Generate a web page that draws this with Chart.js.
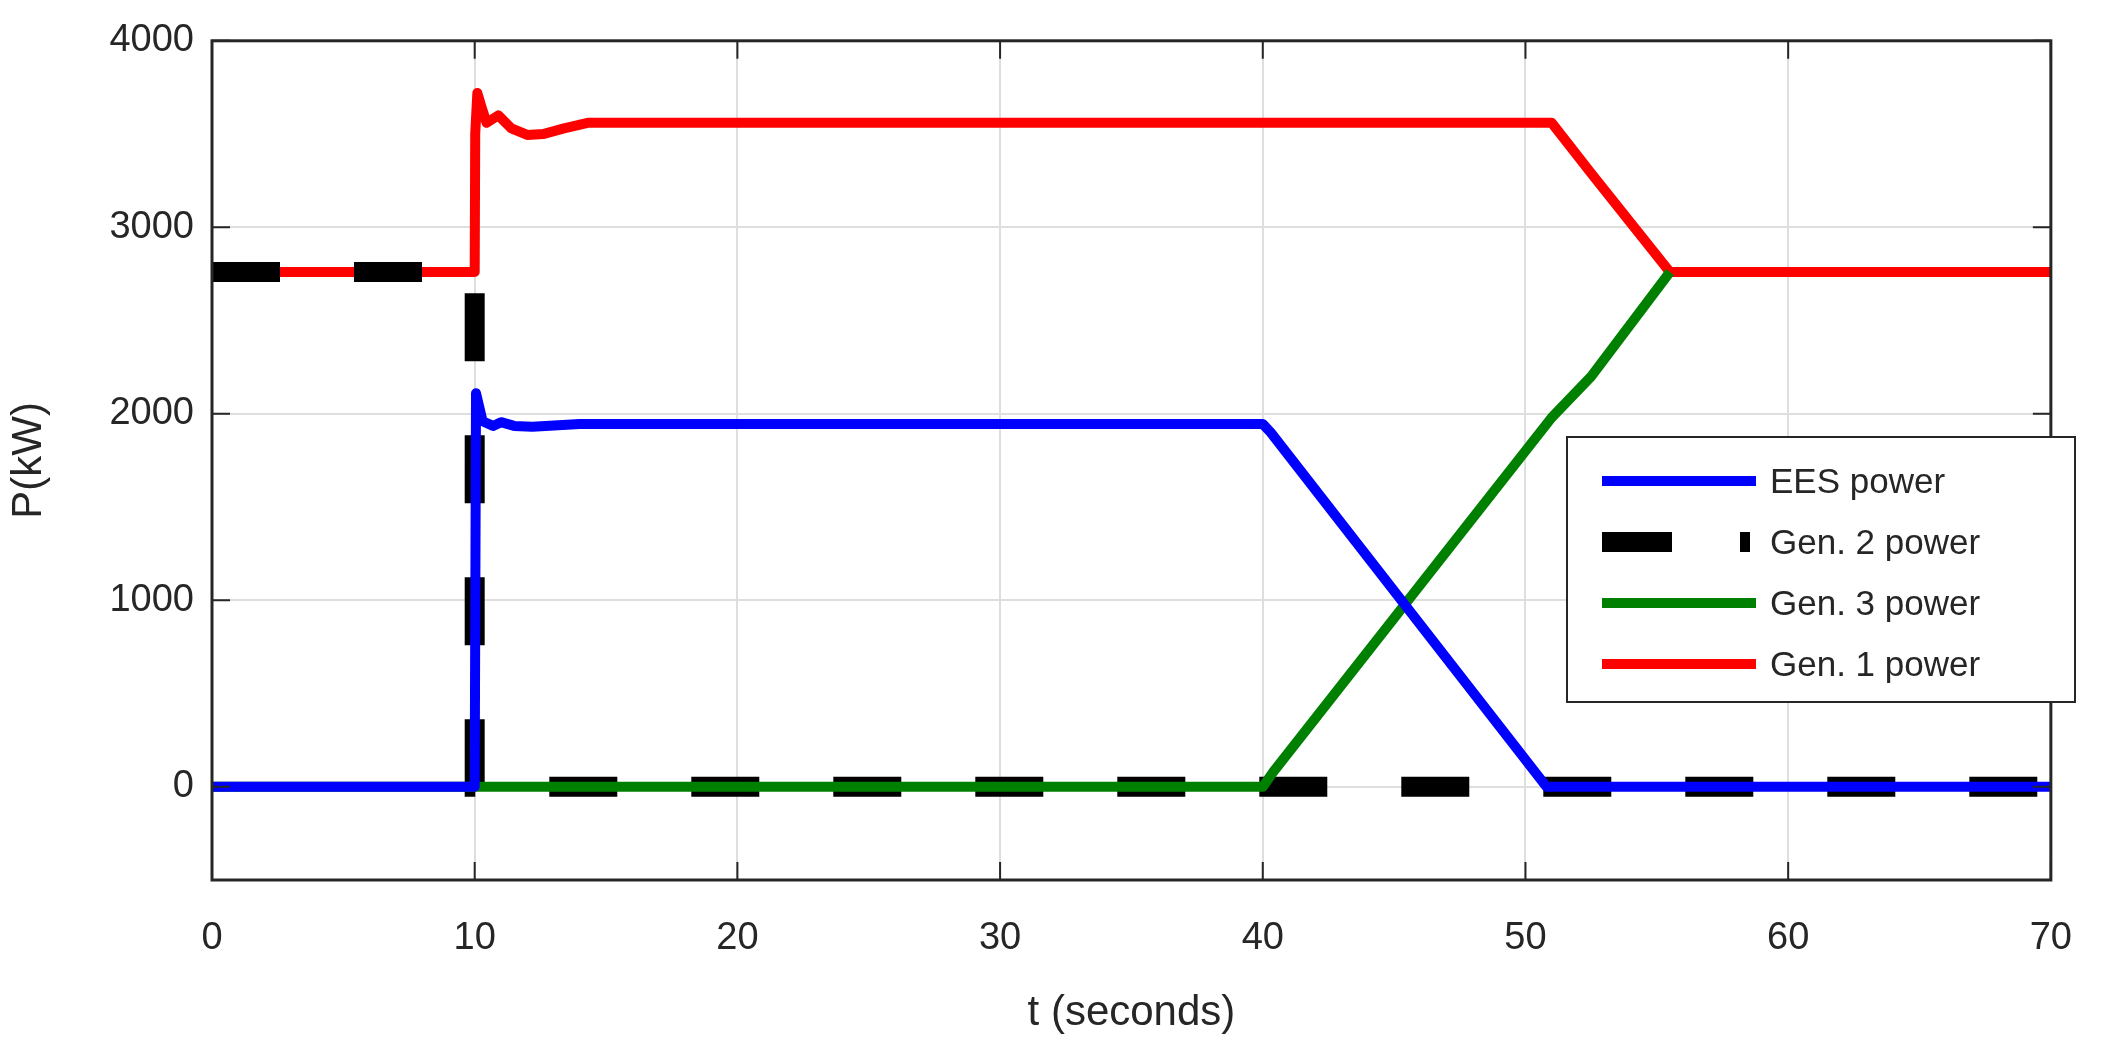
<!DOCTYPE html>
<html>
<head>
<meta charset="utf-8">
<script src="https://cdn.jsdelivr.net/npm/chart.js@4"></script>
<style>
  html, body { margin: 0; padding: 0; background: #fff; }
  #wrap { width: 2108px; height: 1043px; }
</style>
</head>
<body>
<div id="wrap"><canvas id="c" width="2108" height="1043"></canvas></div>
<script>
// values (t in seconds, P in kW)
const gen1T = [0, 10, 10.02, 10.1, 10.25, 10.45, 10.9, 11.4, 12.0, 12.6, 13.4, 14.3, 51.0, 52.5, 55.5, 70];
const gen1P = [2760, 2760, 3500, 3720, 3650, 3560, 3600, 3530, 3495, 3500, 3530, 3560, 3560, 3290, 2760, 2760];

const eesT = [0, 10, 10.05, 10.3, 10.7, 11.0, 11.5, 12.2, 14.0, 40.0, 40.3, 50.8, 70];
const eesP = [0, 0, 2110, 1960, 1935, 1955, 1935, 1930, 1945, 1945, 1900, 0, 0];

const gen2T = [0, 10, 10, 70];
const gen2P = [2760, 2760, 0, 0];

const gen3T = [0, 40, 40.4, 51.0, 52.5, 55.5];
const gen3P = [0, 0, 80, 1980, 2200, 2760];

const xTicks = [0, 10, 20, 30, 40, 50, 60, 70];
const yTicks = [0, 1000, 2000, 3000, 4000];

const toXY = (ts, ps) => ts.map((t, i) => ({ x: t, y: ps[i] }));

const FONT = "'Liberation Sans', Arial, sans-serif";

const legendItems = [
  { label: "EES power", color: "#0000ff" },
  { label: "Gen. 2 power", color: "#000000", gen2: true },
  { label: "Gen. 3 power", color: "#008000" },
  { label: "Gen. 1 power", color: "#ff0000" },
];

const frameAndLegend = {
  id: "frameAndLegend",
  afterDraw(chart) {
    const { ctx, chartArea: a } = chart;
    ctx.save();
    ctx.strokeStyle = "#262626";
    ctx.lineWidth = 3;
    ctx.strokeRect(a.left, a.top, a.right - a.left, a.bottom - a.top);
    // inward ticks
    ctx.lineWidth = 2;
    const xs = chart.scales.x, ys = chart.scales.y;
    xTicks.forEach((v) => {
      const px = xs.getPixelForValue(v);
      ctx.beginPath(); ctx.moveTo(px, a.bottom); ctx.lineTo(px, a.bottom - 18);
      ctx.moveTo(px, a.top); ctx.lineTo(px, a.top + 18); ctx.stroke();
    });
    yTicks.forEach((v) => {
      const py = ys.getPixelForValue(v);
      ctx.beginPath(); ctx.moveTo(a.left, py); ctx.lineTo(a.left + 18, py);
      ctx.moveTo(a.right, py); ctx.lineTo(a.right - 18, py); ctx.stroke();
    });

    // legend box
    const bx = 1567, by = 437, bw = 508, bh = 265;
    ctx.fillStyle = "#fff";
    ctx.fillRect(bx, by, bw, bh);
    ctx.strokeStyle = "#262626";
    ctx.lineWidth = 2;
    ctx.strokeRect(bx, by, bw, bh);
    ctx.font = "35px " + FONT;
    ctx.textBaseline = "middle";
    legendItems.forEach((it, i) => {
      const y = by + 44 + i * 61;
      if (it.gen2) {
        ctx.fillStyle = "#000";
        ctx.fillRect(bx + 35, y - 10, 70, 20);
        ctx.fillRect(bx + 173, y - 10, 10, 20);
      } else {
        ctx.strokeStyle = it.color;
        ctx.lineWidth = 10;
        ctx.beginPath(); ctx.moveTo(bx + 35, y); ctx.lineTo(bx + 189, y); ctx.stroke();
      }
      ctx.fillStyle = "#262626";
      ctx.fillText(it.label, bx + 203, y + 2);
    });
    ctx.restore();
  },
};

const lineDs = (label, data, color, width, extra) => ({
  label, data, borderColor: color, backgroundColor: color,
  borderWidth: width, pointRadius: 0, fill: false, tension: 0,
  borderJoinStyle: "round", ...extra,
});

new Chart(document.getElementById("c").getContext("2d"), {
  type: "line",
  data: {
    datasets: [
      lineDs("EES power", toXY(eesT, eesP), "#0000ff", 10),
      lineDs("Gen. 3 power", toXY(gen3T, gen3P), "#008000", 10),
      lineDs("Gen. 2 power", toXY(gen2T, gen2P), "#000000", 20, { borderDash: [68, 74], borderCapStyle: "butt", borderJoinStyle: "miter" }),
      lineDs("Gen. 1 power", toXY(gen1T, gen1P), "#ff0000", 10),
    ],
  },
  options: {
    responsive: false,
    animation: false,
    layout: { padding: { top: 35, right: 26, left: 0, bottom: 0 } },
    plugins: { legend: { display: false }, tooltip: { enabled: false } },
    scales: {
      x: {
        type: "linear", min: 0, max: 70,
        afterBuildTicks: (s) => { s.ticks = xTicks.map((v) => ({ value: v })); },
        afterFit: (s) => { s.height = 163; },
        grid: { color: "#dedede", lineWidth: 2, drawTicks: false },
        border: { display: false },
        ticks: { color: "#262626", padding: 36, maxRotation: 0, callback: (v) => String(v), font: { size: 38, family: FONT } },
        title: { display: true, text: "t (seconds)", color: "#262626", padding: { top: 6 }, font: { size: 42, family: FONT } },
      },
      y: {
        type: "linear", min: -500, max: 4000,
        afterBuildTicks: (s) => { s.ticks = yTicks.map((v) => ({ value: v })); },
        afterFit: (s) => { s.width = 212; },
        grid: { color: "#dedede", lineWidth: 2, drawTicks: false },
        border: { display: false },
        ticks: { color: "#262626", padding: 18, callback: (v) => String(v), font: { size: 38, family: FONT } },
        title: { display: true, text: "P(kW)", color: "#262626", padding: { bottom: 10 }, font: { size: 42, family: FONT } },
      },
    },
  },
  plugins: [frameAndLegend],
});
</script>
</body>
</html>
